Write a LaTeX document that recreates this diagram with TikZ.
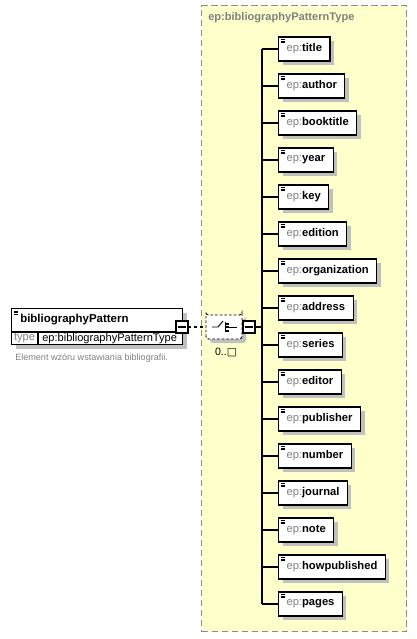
\documentclass[tikz,border=0pt]{standalone}
\usepackage{fontspec}
\setmainfont{Liberation Sans}
\newfontfamily\symfont{DejaVu Sans}
\usetikzlibrary{positioning,shadows,shapes.misc}
\definecolor{grpfill}{HTML}{FFFFCC}
\definecolor{grpline}{HTML}{8C8C8C}
\definecolor{nsgrey}{HTML}{808080}
\definecolor{shade}{HTML}{C0C0C0}
\newcommand{\ep}[1]{{\color{nsgrey}ep:}\textbf{#1}}
\newcommand{\lineicon}{\foreach \k in {0,1,2}{\draw[line width=0.5pt] ([xshift=1.5pt,yshift=-1.8pt-1.2pt*\k]path picture bounding box.north west) -- ++(3.6pt,0);}}

\begin{document}
\begin{tikzpicture}[
  x=0.75pt,y=-0.75pt,
  shad/.style={drop shadow={shadow xshift=3pt,shadow yshift=-3pt,fill=shade,opacity=1}},
  elem/.style={draw, fill=white, line width=0.8pt},
  child/.style={elem, shad, anchor=west, minimum height=18pt, inner xsep=6pt, font=\fontsize{8.4}{10}\selectfont, path picture={\lineicon}},
  minus/.style={draw, fill=white, line width=0.8pt, minimum size=9pt, inner sep=0pt, path picture={\draw[line width=0.8pt] ([xshift=1.8pt]path picture bounding box.west) -- ([xshift=-1.8pt]path picture bounding box.east);}},
  seqbox/.style={chamfered rectangle, chamfered rectangle xsep=5pt, chamfered rectangle ysep=5pt, rounded corners=2pt, draw, dash pattern=on 2pt off 1.5pt, line width=0.7pt, fill=white, shad, minimum width=27pt, minimum height=18pt, inner sep=0pt},
  group/.style={draw=grpline, fill=grpfill, line width=0.8pt, dash pattern=on 5pt off 2.5pt, anchor=north west, minimum width=153.75pt, minimum height=469.5pt, inner sep=0pt}
]
\useasboundingbox (0,0) rectangle (417,639);
\node[group] (grp) at (201,5) {};
\node[anchor=west, inner sep=0pt, text=nsgrey, font=\bfseries\fontsize{8.3}{10}\selectfont] (grptitle) at (208,18) {ep:bibliographyPatternType};

% element
\node[elem, shad, anchor=north west, minimum width=128.25pt, minimum height=27pt, inner sep=0pt, path picture={\lineicon}] (bp) at (11,308) {};
\node[anchor=west, inner sep=0pt, font=\bfseries\fontsize{8.6}{10}\selectfont] (bpname) at (20,320) {bibliographyPattern};
\draw[line width=0.8pt] (11,332) -- (182,332);
\draw[line width=0.8pt] (38,332) -- (38,344);
\node[inner sep=0pt, text=nsgrey, font=\fontsize{8.3}{10}\selectfont] (bptype) at (24.5,338.5) {type};
\node[anchor=west, inner sep=0pt, font=\fontsize{8.3}{10}\selectfont] (bptypeval) at (42,338.5) {ep:bibliographyPatternType};
\node[anchor=west, inner sep=0pt, text=nsgrey, font=\fontsize{6.8}{8}\selectfont] (desc) at (15,358) {Element wzóru wstawiania bibliografii.};
\node[minus] (bpm) at (182,327) {};

% sequence
\node[seqbox] (seq) at (224,327) {};
\draw[line width=0.7pt] ([shift={(-12,0)}]seq.center) -- ++(6,0) -- ++(5,-6);
\draw[line width=0.7pt] ([shift={(1,-5)}]seq.center) -- ++(0,10);
\foreach \d in {-4.5,-1,2.5}{\fill ([shift={(2,\d)}]seq.center) rectangle ++(3,2);}
\draw[line width=0.7pt] ([shift={(5,0)}]seq.center) -- ++(8,0);
\node[minus, right=0pt of seq] (seqm) {};
\node[inner sep=0pt, font=\fontsize{8}{10}\selectfont] (occ) at (226,352) {0..{\symfont □}};
\draw[line width=0.8pt, dash pattern=on 2.2pt off 2.2pt] (bpm) -- (seq);

% children
\foreach \n [count=\i] in {title,author,booktitle,year,key,edition,organization,address,series,editor,publisher,number,journal,note,howpublished,pages}{
  \node[child] (c\i) at (278,12+37*\i) {\ep{\n}};
}
\coordinate (bus) at (262,327);
\draw[line width=0.8pt] (seqm) -- (bus);
\draw[line width=0.8pt] (bus |- c1.west) -- (bus |- c16.west);
\foreach \i in {1,...,16}{\draw[line width=0.8pt] (bus |- c\i.west) -- (c\i.west);}
\end{tikzpicture}
\end{document}
